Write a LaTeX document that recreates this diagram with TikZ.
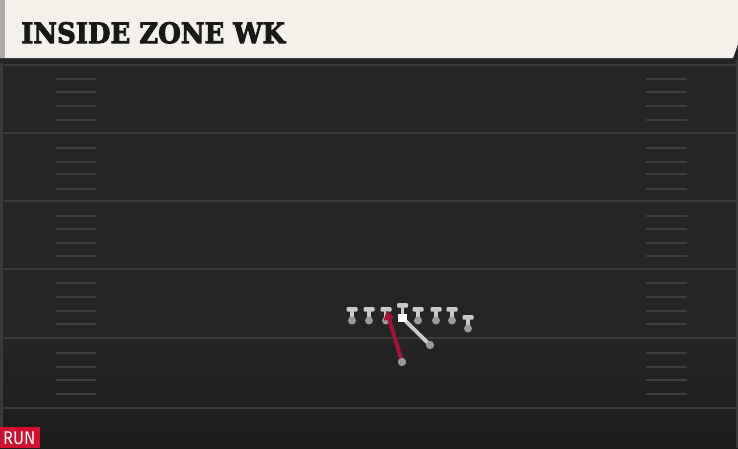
\documentclass[tikz,border=0pt]{standalone}
\usepackage{fontspec}
\newfontfamily\titlefont[BoldFeatures={FakeBold=3.2}]{DejaVu Serif}
\newfontfamily\runfont{Fira Sans}
\usetikzlibrary{arrows.meta}
\definecolor{fieldc}{HTML}{252525}
\definecolor{fielddark}{HTML}{1C1C1C}
\definecolor{headc}{HTML}{F4F1EA}
\definecolor{stripc}{HTML}{A8A8A6}
\definecolor{yardc}{HTML}{3A3A3A}
\definecolor{hashc}{HTML}{3E3E3E}
\definecolor{manc}{HTML}{CACACA}
\definecolor{dotc}{HTML}{9A9A9A}
\definecolor{runred}{HTML}{A8113A}
\definecolor{tagred}{HTML}{D0102E}
\tikzset{
  yardline/.style={draw=yardc, line width=2},
  hashmark/.style={draw=hashc, line width=1.6},
  manbar/.style={fill=manc, rounded corners=1},
  manstem/.style={fill=manc},
  mandot/.style={circle, fill=dotc, minimum size=8, inner sep=0},
  ballsq/.style={rectangle, fill=white, minimum size=8.5, inner sep=0},
  runpath/.style={draw=runred, line width=4, -{Triangle[length=9,width=10.5]}},
  qbpath/.style={draw=manc, line width=3.8},
}
\newcommand\tman[3]{% x, y of bar top, name
  \fill[manstem] (#1-1.8,#2+3) rectangle (#1+1.8,#2+13);
  \fill[manbar] (#1-5.5,#2) rectangle (#1+5.5,#2+4.5);
  \node[mandot] (#3) at (#1,#2+13.5) {};
}
\begin{document}
\begin{tikzpicture}[x=1pt,y=-1pt]
\useasboundingbox (0,0) rectangle (738,448);
\fill[fieldc] (0,0) rectangle (738,448);
\shade[top color=fieldc, bottom color=fielddark] (0,340) rectangle (738,448);
% side borders
\fill[yardc] (0,60) rectangle (2.5,448);
\fill[yardc] (735.5,60) rectangle (738,448);
% header
\fill[black!85] (0,57) rectangle (736,63);
\fill[headc] (0,0) -- (738,0) -- (738,44) -- (733,58) -- (0,58) -- cycle;
\fill[stripc] (0,0) rectangle (5,58);
\node[anchor=base west, inner sep=0, text=black!90, font=\titlefont\bfseries\fontsize{29}{29}\selectfont] (title) at (21,43.2) {\scalebox{0.895}[0.98]{INSIDE ZONE WK}};
% yard lines
\foreach \yy in {133,201,269,338,408} \draw[yardline] (2,\yy) -- (736,\yy);
\draw[draw=yardc, line width=1.2] (2,65) -- (736,65);
% hash marks
\foreach \yy in {79,92,106,120,148,162,174,189,216,229,243,256,283,297,311,324,353,367,380,394} {
  \draw[hashmark] (56,\yy) -- (96,\yy);
  \draw[hashmark] (646,\yy) -- (687,\yy);
}
% offensive line and others
\tman{352}{307}{p1}
\tman{369}{307}{p2}
\tman{386}{307}{p3}
\tman{418}{307}{p5}
\tman{436}{307}{p6}
\tman{452}{307}{p7}
\tman{468}{315}{p8}
% center
\fill[manstem] (400.7,306) rectangle (404.3,316);
\fill[manbar] (397,303) rectangle (408,307.5);
\node[ballsq] (c) at (402.5,318) {};
% backs
\node[mandot] (qb) at (430,345) {};
\node[mandot] (rb) at (402,362) {};
\coordinate (hole) at (386.5,310.5);
\draw[qbpath] (c.center) -- (qb.center);
\node[mandot] at (qb) {};
\draw[runpath] (rb.center) -- (hole);
\node[mandot] at (rb) {};
\node[ballsq] at (c) {};
% RUN tag
\fill[tagred] (0,427) rectangle (40,448);
\node[anchor=base west, inner sep=0, text=white, font=\runfont\fontsize{18.5}{18.5}\selectfont] (run) at (3,444.5) {\scalebox{0.9}[1]{RUN}};
\end{tikzpicture}
\end{document}
